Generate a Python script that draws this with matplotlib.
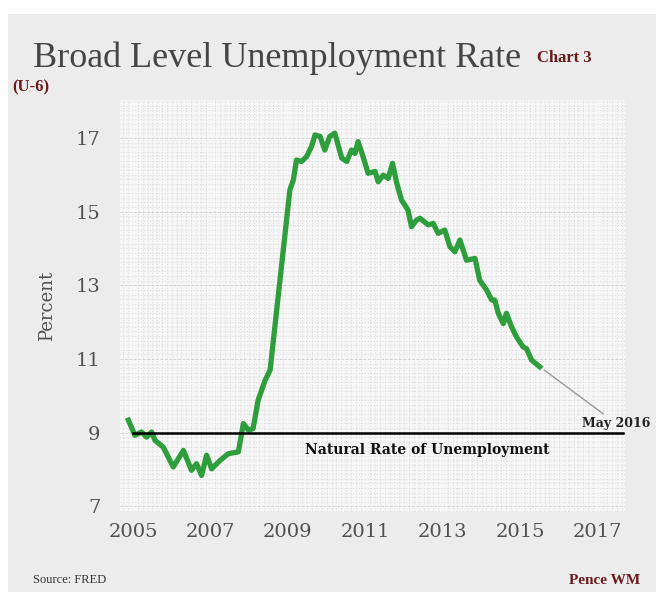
import matplotlib.pyplot as plt
import matplotlib.patches as patches
from matplotlib.ticker import MultipleLocator

# U-6 rate (year, percent)
years = [2004.88, 2005.05, 2005.22, 2005.35, 2005.48, 2005.57, 2005.78, 2006.04,
         2006.30, 2006.51, 2006.64, 2006.77, 2006.90, 2007.03, 2007.25, 2007.46,
         2007.72, 2007.85, 2007.98, 2008.10, 2008.23, 2008.41, 2008.54, 2008.71,
         2008.88, 2009.05, 2009.14, 2009.22, 2009.35, 2009.48, 2009.61, 2009.70,
         2009.83, 2009.95, 2010.08, 2010.21, 2010.39, 2010.52, 2010.64, 2010.73,
         2010.81, 2010.94, 2011.07, 2011.25, 2011.33, 2011.46, 2011.59, 2011.70,
         2011.81, 2011.93, 2012.10, 2012.19, 2012.32, 2012.41, 2012.62, 2012.75,
         2012.88, 2013.05, 2013.18, 2013.31, 2013.44, 2013.61, 2013.83, 2013.95,
         2014.13, 2014.26, 2014.34, 2014.43, 2014.56, 2014.64, 2014.77, 2014.90,
         2015.07, 2015.16, 2015.29, 2015.50]
u6 = [9.34, 8.93, 9.02, 8.88, 9.02, 8.79, 8.61, 8.07,
      8.52, 7.98, 8.16, 7.84, 8.39, 8.02, 8.25, 8.43,
      8.48, 9.25, 9.07, 9.11, 9.88, 10.42, 10.70, 12.33,
      13.96, 15.59, 15.86, 16.40, 16.36, 16.49, 16.77, 17.08,
      17.04, 16.67, 17.04, 17.13, 16.45, 16.36, 16.67, 16.58,
      16.90, 16.49, 16.04, 16.09, 15.81, 15.99, 15.90, 16.31,
      15.77, 15.32, 15.04, 14.59, 14.77, 14.82, 14.64, 14.68,
      14.41, 14.50, 14.05, 13.91, 14.23, 13.68, 13.73, 13.14,
      12.87, 12.60, 12.60, 12.24, 11.96, 12.24, 11.88, 11.60,
      11.33, 11.28, 10.97, 10.79]

natural_rate = 9.0
natural_span = [2005.0, 2017.65]
may_2016 = (2016.46, 9.26)

x_ticks = [2005, 2007, 2009, 2011, 2013, 2015, 2017]
y_ticks = [7, 9, 11, 13, 15, 17]

dark_red = '#6b1a1a'
text_gray = '#505050'

fig = plt.figure(figsize=(6.62, 5.95), dpi=100)
fig.patch.set_facecolor('white')
fig.patches.append(patches.Rectangle((8 / 662, 3 / 595), 648 / 662, 578 / 595,
                                     transform=fig.transFigure, facecolor='#ececec',
                                     edgecolor='none', zorder=-5))

ax = fig.add_axes([0.181, 0.139, 0.763, 0.693])
ax.set_facecolor('#f7f7f7')

ax.plot(years, u6, color='#2e9e3c', lw=3.8, solid_joinstyle='round', zorder=3)
ax.plot(natural_span, [natural_rate, natural_rate], color='black', lw=1.8, zorder=4,
        clip_on=False)

ax.annotate('May 2016', xy=(years[-1], u6[-1]), xytext=(may_2016[0] + 0.12, may_2016[1]),
            fontsize=9, fontweight='bold', family='DejaVu Serif', color='#222222',
            va='center', ha='left', annotation_clip=False,
            arrowprops=dict(arrowstyle='-', color='#999999', lw=1.0, shrinkA=0, shrinkB=4))
ax.text(2012.59, 8.52, 'Natural Rate of Unemployment', fontsize=10, fontweight='bold',
        family='DejaVu Serif', color='#111111', ha='center', va='center', zorder=5)

ax.set_xlim(2004.66, 2017.70)
ax.set_ylim(6.84, 18.03)
ax.set_xticks(x_ticks)
ax.set_yticks(y_ticks)
ax.xaxis.set_minor_locator(MultipleLocator(0.125))
ax.yaxis.set_minor_locator(MultipleLocator(0.125))
ax.grid(which='minor', color='#dedede', linestyle=':', lw=0.8)
ax.grid(which='major', axis='y', color='#d0d0d0', linestyle='--', lw=0.6)
ax.tick_params(which='both', length=0)
ax.tick_params(axis='x', pad=8)
ax.tick_params(axis='y', pad=14)
for lab in ax.get_xticklabels() + ax.get_yticklabels():
    lab.set_family('DejaVu Serif')
    lab.set_fontsize(14)
    lab.set_color(text_gray)
for s in ax.spines.values():
    s.set_visible(False)
ax.set_ylabel('Percent', family='DejaVu Serif', fontsize=13, color=text_gray, labelpad=14)

fig.text(33 / 662, 1 - 58 / 595, 'Broad Level Unemployment Rate', family='Liberation Serif',
         fontsize=26, color='#454545', va='center', ha='left')
fig.text(537 / 662, 1 - 58 / 595, 'Chart 3', family='Liberation Serif', fontsize=12,
         fontweight='bold', color=dark_red, va='center', ha='left')
fig.text(12 / 662, 1 - 87 / 595, '(U-6)', family='Liberation Serif', fontsize=12,
         fontweight='bold', color=dark_red, va='center', ha='left')
fig.text(33 / 662, 1 - 580 / 595, 'Source: FRED', family='Liberation Serif', fontsize=9,
         color='#333333', va='center', ha='left')
fig.text(640 / 662, 1 - 580 / 595, 'Pence WM', family='Liberation Serif', fontsize=11,
         fontweight='bold', color=dark_red, va='center', ha='right')

fig.savefig('out.png', dpi=100)
